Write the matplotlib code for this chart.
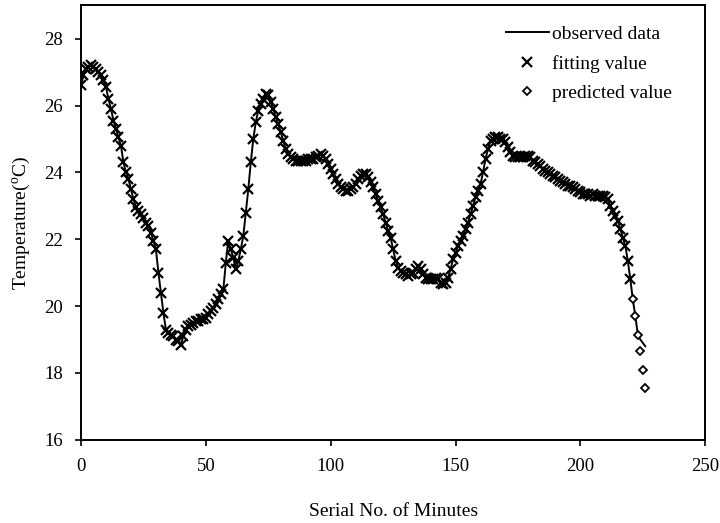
import matplotlib
matplotlib.use('Agg')
import matplotlib.pyplot as plt

plt.rcParams['font.family'] = ['Liberation Serif', 'DejaVu Serif']
plt.rcParams['mathtext.fontset'] = 'custom'
plt.rcParams['mathtext.rm'] = 'Liberation Serif'

# observed temperature, one value per minute (0..226)
observed = [
    26.6, 26.9, 27.1, 27.15, 27.2, 27.15, 27.1, 27.0, 26.9, 26.75,
    26.55, 26.2, 25.9, 25.55, 25.3, 25.05, 24.8, 24.3, 24.0, 23.8,
    23.5, 23.2, 22.95, 22.85, 22.75, 22.65, 22.5, 22.4, 22.2, 21.95,
    21.7, 21.0, 20.4, 19.8, 19.3, 19.2, 19.15, 19.1, 19.0, 18.95,
    18.85, 19.1, 19.3, 19.4, 19.45, 19.5, 19.55, 19.55, 19.6, 19.6,
    19.65, 19.75, 19.85, 19.95, 20.05, 20.2, 20.35, 20.5, 21.3, 21.95,
    21.7, 21.45, 21.1, 21.35, 21.7, 22.1, 22.8, 23.5, 24.3, 25.0,
    25.5, 25.85, 26.05, 26.2, 26.35, 26.3, 26.1, 25.9, 25.65, 25.45,
    25.2, 24.95, 24.7, 24.55, 24.45, 24.4, 24.35, 24.35, 24.35, 24.35,
    24.35, 24.4, 24.4, 24.4, 24.45, 24.5, 24.55, 24.5, 24.4, 24.25,
    24.1, 23.95, 23.8, 23.65, 23.55, 23.5, 23.45, 23.45, 23.5, 23.55,
    23.65, 23.8, 23.9, 23.95, 23.95, 23.85, 23.7, 23.55, 23.35, 23.15,
    22.95, 22.75, 22.5, 22.25, 22.05, 21.7, 21.35, 21.15, 21.05, 21.0,
    20.95, 20.9, 20.95, 21.0, 21.1, 21.2, 21.1, 20.95, 20.85, 20.8,
    20.8, 20.8, 20.85, 20.8, 20.7, 20.65, 20.7, 20.85, 21.1, 21.4,
    21.6, 21.8, 21.95, 22.1, 22.3, 22.5, 22.75, 23.0, 23.25, 23.45,
    23.65, 24.0, 24.4, 24.7, 24.95, 25.0, 25.05, 25.05, 25.0, 25.0,
    24.9, 24.75, 24.6, 24.5, 24.45, 24.45, 24.45, 24.45, 24.5, 24.5,
    24.45, 24.35, 24.3, 24.25, 24.2, 24.1, 24.05, 24.0, 23.95, 23.9,
    23.85, 23.8, 23.75, 23.7, 23.65, 23.6, 23.6, 23.55, 23.5, 23.45,
    23.4, 23.35, 23.35, 23.35, 23.3, 23.35, 23.3, 23.3, 23.3, 23.3,
    23.25, 23.2, 23.0, 22.85, 22.7, 22.55, 22.3, 22.05, 21.8, 21.35,
    20.8, 20.2, 19.7, 19.15, 19.0, 18.9, 18.8,
]
minutes = list(range(len(observed)))

# fitted values for minutes 0..220
fit_minutes = minutes[:221]
fitted = observed[:221]

# predicted values
pred_minutes = [221, 222, 223, 224, 225, 226]
predicted = [20.2, 19.7, 19.15, 18.65, 18.1, 17.55]

fig = plt.figure(figsize=(7.2, 5.23), dpi=100)
ax = fig.add_axes([0.1125, 0.159, 0.867, 0.831])

ax.plot(minutes, observed, color='black', lw=1.4, label='observed data')
ax.plot(fit_minutes, fitted, ls='none', marker='x', ms=6.5, mew=1.6,
        color='black', label='fitting value')
ax.plot(pred_minutes, predicted, ls='none', marker='D', ms=4.5, mew=1.3,
        mfc='white', mec='black', label='predicted value')

ax.set_xlim(0, 250)
ax.set_ylim(16, 29)
ax.set_xticks([0, 50, 100, 150, 200, 250])
ax.set_yticks([16, 18, 20, 22, 24, 26, 28])
ax.tick_params(direction='out', length=4, width=1.2, labelsize=13.5, pad=9)
for s in ax.spines.values():
    s.set_linewidth(1.4)

ax.set_xlabel('Serial No. of Minutes', fontsize=14, labelpad=20)
ax.set_ylabel(r'Temperature($^{\mathrm{o}}$C)', fontsize=14, labelpad=8)

ax.legend(loc='upper left', bbox_to_anchor=(0.668, 0.971), frameon=False,
          fontsize=14, handlelength=2.2, labelspacing=0.6, handletextpad=0.2,
          borderaxespad=0)

fig.savefig('out.png', dpi=100)
